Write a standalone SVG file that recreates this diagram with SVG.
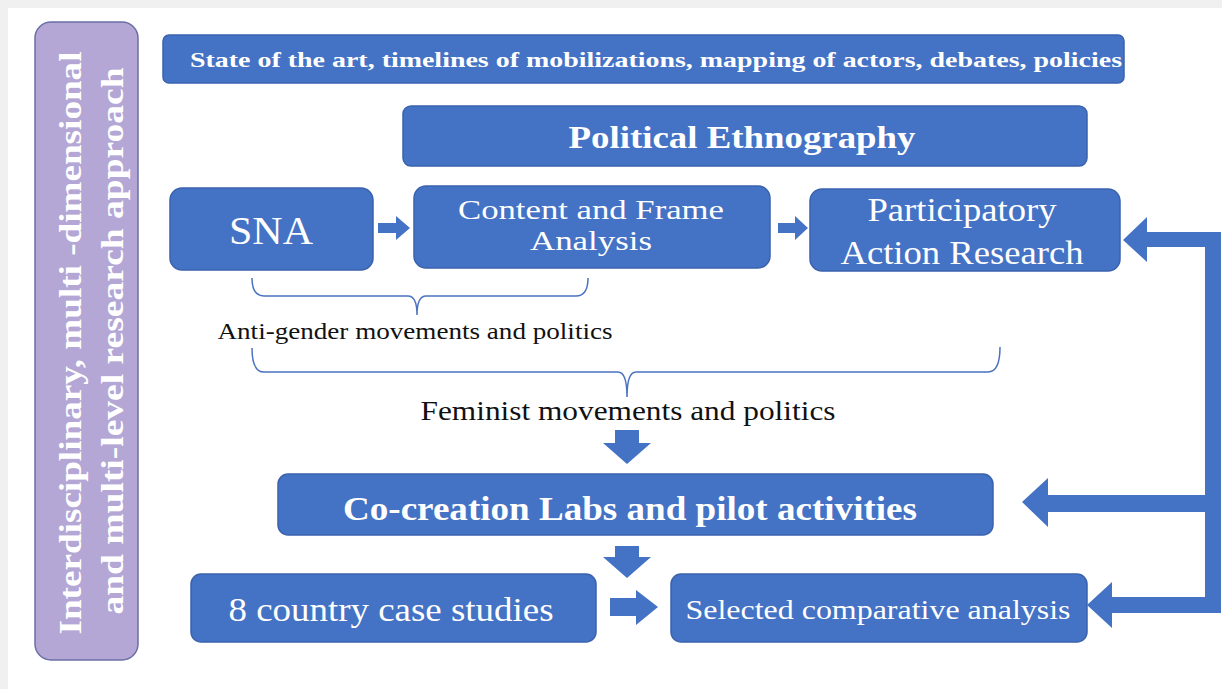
<svg xmlns="http://www.w3.org/2000/svg" width="1222" height="689" viewBox="0 0 1222 689" font-family="'Liberation Serif', serif">
<style>
.box{fill:#4472c4;stroke:#3a62ad;stroke-width:1.5}
text{font-family:"Liberation Serif",serif}
.wt{fill:#fff;text-anchor:middle}
.b{font-weight:bold}
.bk{fill:#111;text-anchor:middle}
.brace{fill:none;stroke:#4a72c0;stroke-width:1.5}
.arr{fill:#4472c4}
</style>
<rect x="0" y="0" width="1222" height="689" fill="#f0f0f0"/>
<rect x="8" y="8" width="1214" height="681" fill="#fff"/>

<g id="side">
<rect x="35" y="22" width="103" height="638" rx="16" fill="#b4a7d6" stroke="#6a6fa6" stroke-width="1.5"/>
<text class="wt b" transform="translate(81,343) rotate(-90)" font-size="32" textLength="583" lengthAdjust="spacingAndGlyphs">Interdisciplinary, multi -dimensional</text>
<text class="wt b" transform="translate(123,341) rotate(-90)" font-size="32" textLength="547" lengthAdjust="spacingAndGlyphs">and multi-level research approach</text>
</g>

<g id="state">
<rect class="box" x="163" y="35" width="961" height="48" rx="6"/>
<text class="wt b" x="656" y="67" font-size="22" textLength="932" lengthAdjust="spacingAndGlyphs">State of the art, timelines of mobilizations, mapping of actors, debates, policies</text>
</g>

<g id="ethno">
<rect class="box" x="403" y="106" width="684" height="60" rx="8"/>
<text class="wt b" x="742" y="148" font-size="32" textLength="347" lengthAdjust="spacingAndGlyphs">Political Ethnography</text>
</g>

<g id="sna">
<rect class="box" x="170" y="188" width="203" height="82" rx="12"/>
<text class="wt" x="271" y="244" font-size="40" textLength="84" lengthAdjust="spacingAndGlyphs">SNA</text>
</g>

<g id="content">
<rect class="box" x="414" y="186" width="356" height="82" rx="12"/>
<text class="wt" x="591" y="219" font-size="27" textLength="266" lengthAdjust="spacingAndGlyphs">Content and Frame</text>
<text class="wt" x="591" y="250" font-size="27" textLength="122" lengthAdjust="spacingAndGlyphs">Analysis</text>
</g>

<g id="par">
<rect class="box" x="810" y="189" width="310" height="82" rx="12"/>
<text class="wt" x="962" y="221" font-size="34" textLength="189" lengthAdjust="spacingAndGlyphs">Participatory</text>
<text class="wt" x="962" y="264" font-size="34" textLength="243" lengthAdjust="spacingAndGlyphs">Action Research</text>
</g>

<g id="antigender">
<text class="bk" x="415" y="339" font-size="24" textLength="395" lengthAdjust="spacingAndGlyphs">Anti-gender movements and politics</text>
</g>

<g id="feminist">
<text class="bk" x="628" y="420" font-size="27" textLength="415" lengthAdjust="spacingAndGlyphs">Feminist movements and politics</text>
</g>

<g id="cocreation">
<rect class="box" x="278" y="474" width="715" height="61" rx="10"/>
<text class="wt b" x="630" y="520" font-size="34" textLength="574" lengthAdjust="spacingAndGlyphs">Co-creation Labs and pilot activities</text>
</g>

<g id="country">
<rect class="box" x="191" y="574" width="405" height="68" rx="10"/>
<text class="wt" x="391" y="621" font-size="34" textLength="325" lengthAdjust="spacingAndGlyphs">8 country case studies</text>
</g>

<g id="comparative">
<rect class="box" x="671" y="574" width="416" height="68" rx="10"/>
<text class="wt" x="878" y="619" font-size="27" textLength="385" lengthAdjust="spacingAndGlyphs">Selected comparative analysis</text>
</g>

<g id="connectors">
<path class="brace" d="M252,278 Q252,296 264,296 L408,296 Q417,296 417,315 Q417,296 426,296 L576,296 Q588,296 588,278"/>
<path class="brace" d="M252,348 Q252,372 264,372 L618,372 Q627,372 627,397 Q627,372 636,372 L988,372 Q1000,372 1000,347"/>
<polygon class="arr" points="378,223 396,223 396,216 410,228 396,240 396,233 378,233"/>
<polygon class="arr" points="778,223 795,223 795,216 808,228 795,240 795,233 778,233"/>
<polygon class="arr" points="615,430 639,430 639,443 651,443 627,464 603,443 615,443"/>
<polygon class="arr" points="615,546 639,546 639,557 651,557 627,578 603,557 615,557"/>
<polygon class="arr" points="610,598 636,598 636,590 658,607 636,625 636,616 610,616"/>
<polygon class="arr" points="1221,232 1221,613 1112,613 1112,628 1087,605 1112,582 1112,597 1205,597 1205,512 1048,512 1048,527 1022,502 1048,478 1048,495 1205,495 1205,247 1147,247 1147,262 1123,240 1147,217 1147,232"/>
</g>
</svg>
